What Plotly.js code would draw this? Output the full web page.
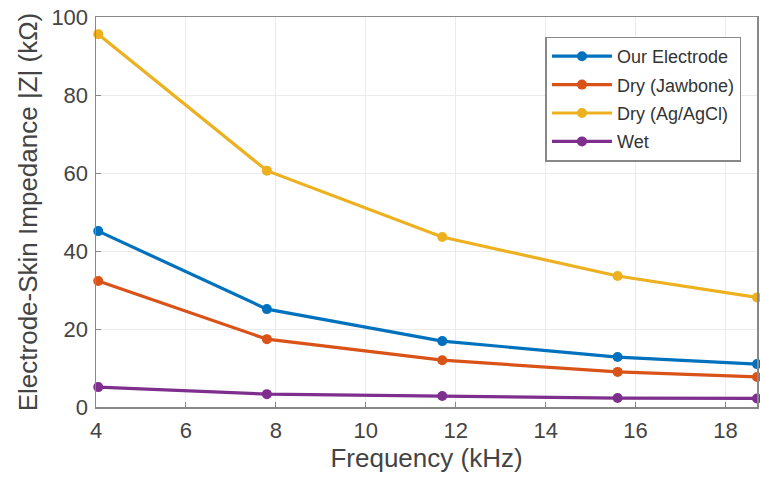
<!DOCTYPE html>
<html><head><meta charset="utf-8">
<script src="https://cdn.plot.ly/plotly-3.0.1.min.js"></script>
<style>body{margin:0;background:#fff}#chart{width:760px;height:485px}</style>
</head><body><div id="chart"></div>
<script>
const freq = [4.05, 7.8, 11.7, 15.6, 18.7];
const ourElectrode = [45.1, 25.1, 16.9, 12.8, 11.0];
const dryJawbone = [32.3, 17.4, 12.0, 9.0, 7.7];
const dryAgAgCl = [95.6, 60.6, 43.6, 33.6, 28.1];
const wet = [5.1, 3.3, 2.8, 2.3, 2.2];
const names = ["Our Electrode", "Dry (Jawbone)", "Dry (Ag/AgCl)", "Wet"];
const colors = ["#0072BD", "#D95319", "#EDB120", "#7E2F8E"];
const series = [ourElectrode, dryJawbone, dryAgAgCl, wet];

const traces = series.map((s, i) => ({
  x: freq, y: s, name: names[i], type: 'scatter', mode: 'lines+markers',
  legendgroup: 'g' + i,
  line: {color: colors[i], width: 3.2}, marker: {color: colors[i], size: 10},
  cliponaxis: false
}));

const FONT = 'Liberation Sans, Arial, sans-serif';
const axisCommon = {
  showgrid: true, gridcolor: '#ebebeb', gridwidth: 1,
  showline: true, linecolor: '#888', linewidth: 1.5, mirror: true,
  ticks: 'inside', ticklen: 5, tickcolor: '#888',
  zeroline: false,
  tickfont: {family: FONT, size: 22, color: '#444'}
};

const layout = {
  width: 760, height: 485,
  margin: {l: 96, r: 3, t: 17, b: 78},
  paper_bgcolor: '#fff', plot_bgcolor: '#fff',
  font: {family: FONT, color: '#444'},
  xaxis: Object.assign({}, axisCommon, {
    range: [4, 18.7], tickvals: [4, 6, 8, 10, 12, 14, 16, 18],
    ticklabelstandoff: 3,
    title: {text: 'Frequency (kHz)', font: {size: 26, color: '#444'}, standoff: 6}
  }),
  yaxis: Object.assign({}, axisCommon, {
    range: [0, 100], tickvals: [0, 20, 40, 60, 80, 100],
    ticklabelstandoff: 2,
    title: {text: 'Electrode-Skin Impedance |Z| (kΩ)', font: {size: 26, color: '#444'}, standoff: 6}
  }),
  legend: {
    x: 0.68, y: 0.95, xanchor: 'left', yanchor: 'top',
    bgcolor: '#fff', bordercolor: '#888', borderwidth: 1.5,
    font: {family: FONT, size: 18, color: '#333'},
    traceorder: 'grouped', tracegroupgap: 2, itemwidth: 60
  },
  showlegend: true
};

Plotly.newPlot('chart', traces, layout, {displayModeBar: false, staticPlot: true});
</script>
</body></html>
